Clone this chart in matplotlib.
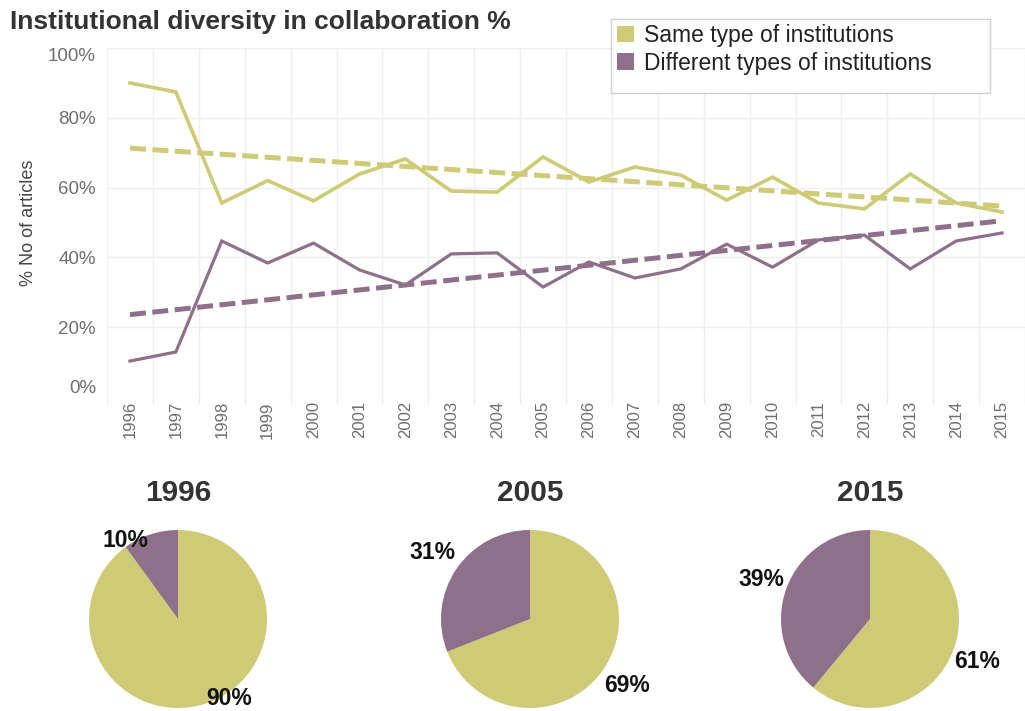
import numpy as np
import matplotlib
matplotlib.use("Agg")
import matplotlib.pyplot as plt
from matplotlib.patches import Patch, Rectangle

plt.rcParams['font.family'] = ['Liberation Sans', 'DejaVu Sans']

years = list(range(1996, 2016))
same_type = [90.0, 87.4, 55.6, 62.0, 56.2, 63.9, 68.2, 59.0, 58.7, 68.8,
             61.6, 65.9, 63.6, 56.4, 63.0, 55.6, 53.9, 63.9, 55.6, 53.0]
diff_type = [10.3, 12.9, 44.7, 38.4, 44.1, 36.4, 32.1, 41.0, 41.3, 31.5,
             38.7, 34.1, 36.7, 43.8, 37.2, 45.0, 46.4, 36.7, 44.7, 47.0]
# trend lines as drawn in the source (start, end)
trend_years = [1996, 2015]
trend_same = [71.3, 54.7]
trend_diff = [23.6, 50.5]

pie_years = ["1996", "2005", "2015"]
pie_same = [90, 69, 61]
pie_diff = [10, 31, 39]

yellow = "#CECA76"
purple = "#8F708A"

W, H = 1025, 711
fig = plt.figure(figsize=(W / 100, H / 100), dpi=100)

ax = fig.add_axes([107 / W, 1 - 397 / H, (W - 107) / W, (397 - 48) / H])
ax.plot(years, same_type, color=yellow, lw=2.6, solid_joinstyle='miter')
ax.plot(years, diff_type, color=purple, lw=2.3, solid_joinstyle='miter')
ax.plot(trend_years, trend_same, color=yellow, lw=3.6, dashes=(3.2, 1.3))
ax.plot(trend_years, trend_diff, color=purple, lw=3.6, dashes=(3.2, 1.3))

ax.set_xlim(1995.5, 2015.5)
ax.set_ylim(0, 100)
ax.set_xticks(years)
ax.set_xticklabels([str(y) for y in years], rotation=90, fontsize=12, color="#6E6E6E")
ax.set_xticks(np.arange(1995.5, 2016, 1), minor=True)
ax.set_yticks(range(0, 101, 20))
ax.set_yticklabels([f"{v}%" for v in range(0, 101, 20)], fontsize=13.5, color="#6E6E6E")
ylabs = ax.get_yticklabels()
ylabs[0].set_va('bottom')
ylabs[-1].set_va('top')
ax.tick_params(axis='y', which='major', length=0, pad=8)
ax.tick_params(axis='x', which='major', length=0, pad=3)
ax.tick_params(axis='x', which='minor', length=5, color="#EBEBEB", width=1)
ax.grid(True, axis='y', which='major', color="#EFEFEF", lw=1)
ax.grid(True, axis='x', which='minor', color="#EFEFEF", lw=1)
ax.set_axisbelow(True)
for s in ax.spines.values():
    s.set_visible(False)
ax.set_ylabel("% No of articles", fontsize=13, color="#444444", labelpad=8)

fig.text(10 / W, 1 - 22 / H, "Institutional diversity in collaboration %",
         fontsize=19, fontweight='bold', color="#333333", va='center')

handles = [Patch(facecolor=yellow, edgecolor='none', label="Same type of institutions"),
           Patch(facecolor=purple, edgecolor='none', label="Different types of institutions")]
leg = fig.legend(handles=handles, loc='upper left', bbox_to_anchor=(617 / W, 1 - 24 / H),
                 fontsize=16.5, frameon=False, handlelength=0.75,
                 handleheight=0.75, handletextpad=0.45, borderpad=0,
                 labelspacing=0.2, borderaxespad=0)
leg.set_zorder(6)
for t in leg.get_texts():
    t.set_color("#222222")
# legend box is wider and taller than its entries in the source
box = Rectangle((611 / W, 1 - 93 / H), (990 - 611) / W, (93 - 19) / H,
                transform=fig.transFigure, facecolor='white',
                edgecolor="#D0D0D0", lw=1, zorder=3)
fig.patches.append(box)

centers_x = [178, 530, 870]
center_y = 619
r = 89
label_dist = [1.06, 1.32, 1.3]
angle_shift = [(15, 16), (0, 0), (-2, 0)]
for i, yr in enumerate(pie_years):
    cx = centers_x[i]
    pax = fig.add_axes([(cx - r) / W, 1 - (center_y + r) / H, 2 * r / W, 2 * r / H])
    wedges, _ = pax.pie([pie_same[i], pie_diff[i]], colors=[yellow, purple],
                        startangle=90, counterclock=False, radius=1)
    pax.set_xlim(-1, 1)
    pax.set_ylim(-1, 1)
    pax.axis('off')
    vals = [pie_same[i], pie_diff[i]]
    for j, w in enumerate(wedges):
        ang = np.deg2rad((w.theta1 + w.theta2) / 2 + angle_shift[i][j])
        d = label_dist[i]
        pax.text(d * np.cos(ang), d * np.sin(ang), f"{vals[j]}%", ha='center', va='center',
                 fontsize=16.5, fontweight='bold', color="#111111", clip_on=False)
    fig.text(cx / W, 1 - 493 / H, yr, ha='center', va='center',
             fontsize=21.5, fontweight='bold', color="#333333")

fig.savefig("out.png", dpi=100)
